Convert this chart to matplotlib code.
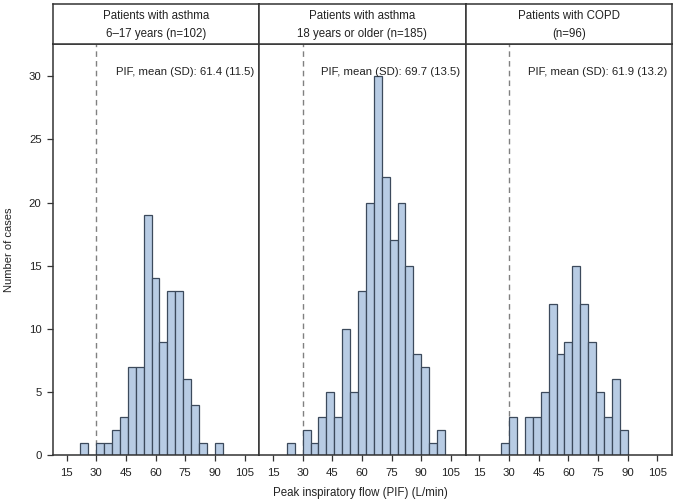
import numpy as np
import matplotlib
matplotlib.use("Agg")
import matplotlib.pyplot as plt

plt.rcParams['font.family'] = ['Liberation Sans', 'DejaVu Sans']

# Data: histogram bins of width 4 (L/min), left edges
bin_width = 4
p1_edges = [22, 26, 30, 34, 38, 42, 46, 50, 54, 58, 62, 66, 70, 74, 78, 82, 86, 90]
p1_counts = [1, 0, 1, 1, 2, 3, 7, 7, 19, 14, 9, 13, 13, 6, 4, 1, 0, 1]

p2_edges = [22, 26, 30, 34, 38, 42, 46, 50, 54, 58, 62, 66, 70, 74, 78, 82, 86, 90, 94, 98]
p2_counts = [1, 0, 2, 1, 3, 5, 3, 10, 5, 13, 20, 30, 22, 17, 20, 15, 8, 7, 1, 2]

p3_edges = [26, 30, 34, 38, 42, 46, 50, 54, 58, 62, 66, 70, 74, 78, 82, 86]
p3_counts = [1, 3, 0, 3, 3, 5, 12, 8, 9, 15, 12, 9, 5, 3, 6, 2]

titles = ["Patients with asthma\n6\u201317 years (n=102)",
          "Patients with asthma\n18 years or older (n=185)",
          "Patients with COPD\n(n=96)"]
annotations = ["PIF, mean (SD): 61.4 (11.5)",
               "PIF, mean (SD): 69.7 (13.5)",
               "PIF, mean (SD): 61.9 (13.2)"]
x_ticks = [15, 30, 45, 60, 75, 90, 105]
y_ticks = [0, 5, 10, 15, 20, 25, 30]
threshold = 30

W, H = 681, 503
fig = plt.figure(figsize=(W / 100, H / 100), dpi=100)

panel_left = 52.7
panel_w = 206.45
plot_top = 44.0
plot_bottom = 455.3
head_top = 4.3

edge_col = '#333333'
bar_face = '#b8cce4'
bar_edge = '#3c4a5c'
txt_col = '#222222'

panels = [(p1_edges, p1_counts), (p2_edges, p2_counts), (p3_edges, p3_counts)]

for i, (edges, counts) in enumerate(panels):
    x0 = panel_left + i * panel_w
    ax = fig.add_axes([x0 / W, 1 - plot_bottom / H, panel_w / W, (plot_bottom - plot_top) / H])
    ax.bar(edges, counts, width=bin_width, align='edge', color=bar_face,
           edgecolor=bar_edge, linewidth=0.9, zorder=2)
    ax.axvline(threshold, color='#808080', linestyle=(0, (4, 3)), linewidth=1.0, zorder=1)
    ax.set_xlim(8, 112.4)
    ax.set_ylim(0, 32.55)
    ax.set_xticks(x_ticks)
    ax.set_xticklabels([str(t) for t in x_ticks], fontsize=8.2, color=txt_col)
    ax.tick_params(axis='x', direction='out', length=4, width=0.9, color='#333333', pad=5)
    if i == 0:
        ax.set_yticks(y_ticks)
        ax.set_yticklabels([str(t) for t in y_ticks], fontsize=8.2, color=txt_col)
        ax.tick_params(axis='y', direction='out', length=4, width=0.9, color='#333333', pad=4)
        ax.set_ylabel("Number of cases", fontsize=8.0, color=txt_col, labelpad=11)
    else:
        ax.set_yticks([])
    for s in ax.spines.values():
        s.set_color(edge_col)
        s.set_linewidth(1.1)
    ax.text(0.975, 0.933, annotations[i], transform=ax.transAxes, ha='right', va='center',
            fontsize=8.2, color=txt_col)

    hax = fig.add_axes([x0 / W, 1 - plot_top / H, panel_w / W, (plot_top - head_top) / H])
    hax.set_xticks([])
    hax.set_yticks([])
    for s in hax.spines.values():
        s.set_color(edge_col)
        s.set_linewidth(1.1)
    hax.text(0.5, 0.48, titles[i], transform=hax.transAxes, ha='center', va='center',
             fontsize=8.3, color=txt_col, linespacing=1.75)

fig.text(360 / W, 1 - 492.7 / H, "Peak inspiratory flow (PIF) (L/min)",
         ha='center', va='center', fontsize=8.3, color=txt_col)

fig.savefig("out.png", dpi=100)
